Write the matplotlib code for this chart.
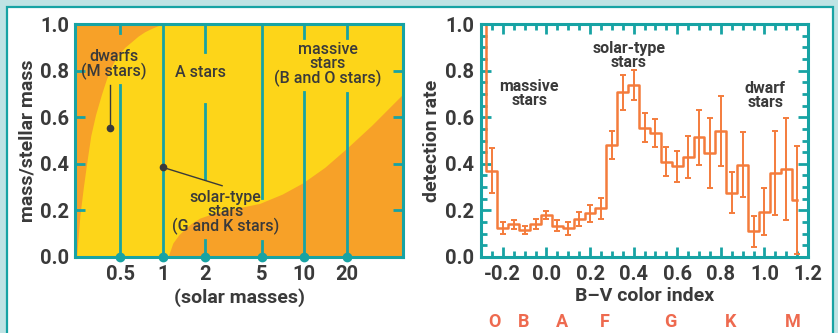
import numpy as np
import matplotlib.pyplot as plt
from matplotlib.patches import Rectangle
from matplotlib.transforms import blended_transform_factory

plt.rcParams['font.family'] = ['Roboto', 'DejaVu Sans']

teal = '#17a3a4'
yellow = '#fdd519'
orange = '#f7a128'
hist_col = '#f47c3c'
dark = '#3a3a3a'
letter_col = '#ee6a4f'

# left panel: companion mass fraction vs primary mass (solar masses)
mass_ticks = [0.5, 1, 2, 5, 10, 20]
frac_ticks = [0.0, 0.2, 0.4, 0.6, 0.8, 1.0]
# edge of the dwarf (orange, upper left) region
dwarf_mass = [0.246, 0.26, 0.275, 0.289, 0.31, 0.335, 0.37, 0.401, 0.44, 0.484, 0.54, 0.602, 0.67, 0.747, 0.84, 0.928, 1.0]
dwarf_frac = [0.0, 0.18, 0.30, 0.395, 0.52, 0.61, 0.70, 0.765, 0.825, 0.867, 0.90, 0.924, 0.948, 0.967, 0.982, 0.993, 1.0]
# edge of the massive-star (orange, lower right) region
massive_mass = [1.09, 1.18, 1.3, 1.43, 1.6, 1.83, 2.3, 3.12, 4.85, 7.0, 9.77, 14.0, 20.3, 30.0, 50.0]
massive_frac = [0.0, 0.06, 0.095, 0.12, 0.145, 0.167, 0.188, 0.206, 0.23, 0.27, 0.318, 0.385, 0.47, 0.565, 0.70]

# right panel: detection rate per B-V bin
bv = [-0.30, -0.25, -0.20, -0.15, -0.10, -0.05, 0.00, 0.05, 0.10, 0.15,
      0.20, 0.25, 0.30, 0.35, 0.40, 0.45, 0.50, 0.55, 0.60, 0.65,
      0.70, 0.75, 0.80, 0.85, 0.90, 0.95, 1.00, 1.05, 1.10, 1.15]
rate = [1.05, 0.37, 0.123, 0.14, 0.116, 0.142, 0.18, 0.134, 0.123, 0.162,
        0.187, 0.209, 0.481, 0.707, 0.737, 0.555, 0.531, 0.409, 0.39, 0.43,
        0.514, 0.448, 0.539, 0.276, 0.396, 0.11, 0.195, 0.362, 0.378, 0.245]
rate_err = [np.nan, 0.097, 0.026, 0.02, 0.017, 0.02, 0.019, 0.023, 0.029, 0.029,
            0.037, 0.045, 0.06, 0.075, 0.064, 0.061, 0.061, 0.063, 0.066, 0.09,
            0.118, 0.15, 0.15, 0.088, 0.14, 0.066, 0.10, 0.18, 0.218, 0.23]
spec_class = ['O', 'B', 'A', 'F', 'G', 'K', 'M']
spec_bv = [-0.24, -0.106, 0.07, 0.268, 0.569, 0.843, 1.128]

fig = plt.figure(figsize=(8.38, 3.33), dpi=100)
fig.patch.set_facecolor('#bfe3e4')
fig.patches.append(Rectangle((7 / 838, -0.1), 826 / 838, 1.1 - 7 / 333,
                             transform=fig.transFigure, facecolor='white',
                             edgecolor=teal, linewidth=1.6, zorder=-10))

tick_font = dict(fontsize=14.5, fontweight='bold', color=dark)

# ---------- left panel ----------
ax1 = fig.add_axes([75 / 838, 76 / 333, 328 / 838, 233 / 333])
ax1.set_xscale('log')
ax1.set_xlim(0.24, 50)
ax1.set_ylim(0, 1)
ax1.set_facecolor(yellow)
ax1.fill_betweenx(dwarf_frac, 0.2, dwarf_mass, color=orange, lw=0)
ax1.fill_between(massive_mass, 0, massive_frac, color=orange, lw=0)

# vertical guide lines, broken where the labels sit
guide_spans = {0.5: [(0.96, 1), (0, 0.74)], 1: [(0, 1)],
               2: [(0.878, 1), (0.335, 0.655), (0, 0.073)],
               5: [(0.255, 1), (0, 0.069)], 10: [(0.94, 1), (0, 0.707)],
               20: [(0.94, 1), (0, 0.703)]}
for m, spans in guide_spans.items():
    for lo, hi in spans:
        ax1.axvline(m, lo, hi, color=teal, lw=2)
ax1.plot(mass_ticks, [0] * len(mass_ticks), 'o', color=teal, ms=6,
         clip_on=False, zorder=5)

ax1.set_xticks(mass_ticks)
ax1.set_xticklabels([str(m) for m in mass_ticks], **tick_font)
ax1.xaxis.set_minor_locator(plt.NullLocator())
ax1.tick_params(axis='x', length=0, pad=6)
ax1.set_yticks(frac_ticks)
ax1.set_yticklabels([f'{v:.1f}' for v in frac_ticks], **tick_font)
ax1.tick_params(axis='y', direction='in', length=7, width=2, color=teal,
                left=True, right=True, pad=4)
for s in ax1.spines.values():
    s.set_color(teal)
    s.set_linewidth(2.2)
ax1.set_xlabel('(solar masses)', fontsize=14, fontweight='bold', color=dark)
ax1.xaxis.set_label_coords(0.5, -0.135)
ax1.set_ylabel('mass/stellar mass', fontsize=14, fontweight='bold', color=dark)
ax1.yaxis.set_label_coords(-0.118, 0.5)

note = dict(fontsize=11.5, fontweight='medium', color=dark, ha='center',
            va='center', linespacing=0.92)
ax1.text(0.451, 0.828, 'dwarfs\n(M stars)', **note)
ax1.text(1.86, 0.79, 'A stars', **note)
ax1.text(14.7, 0.828, 'massive\nstars\n(B and O stars)', **note)
ax1.text(2.79, 0.19, 'solar-type\nstars\n(G and K stars)', **note)
ax1.plot([0.423, 0.423], [0.738, 0.555], color=dark, lw=1)
ax1.plot(0.423, 0.555, 'o', color=dark, ms=4.5)
ax1.plot([1.0, 2.63], [0.385, 0.306], color=dark, lw=1)
ax1.plot(1.0, 0.385, 'o', color=dark, ms=4.5)

# ---------- right panel ----------
ax2 = fig.add_axes([481 / 838, 76 / 333, 327 / 838, 233 / 333])
ax2.set_xlim(-0.3, 1.2)
ax2.set_ylim(0, 1)
ax2.plot(bv, rate, drawstyle='steps-mid', color=hist_col, lw=1.8)
ax2.errorbar(bv, rate, yerr=rate_err, fmt='none', ecolor=hist_col,
             elinewidth=1.4, capsize=2.2, capthick=1.4)

ax2.set_xticks(np.arange(-0.2, 1.21, 0.2))
ax2.set_xticklabels(['-0.2', '0.0', '0.2', '0.4', '0.6', '0.8', '1.0', '1.2'],
                    **tick_font)
ax2.set_xticks(np.arange(-0.3, 1.2, 0.05), minor=True)
ax2.set_yticks(frac_ticks)
ax2.set_yticklabels([f'{v:.1f}' for v in frac_ticks], **tick_font)
ax2.set_yticks(np.arange(0, 1.0, 0.05), minor=True)
ax2.tick_params(which='both', direction='in', color=teal, width=2,
                top=True, right=True)
ax2.tick_params(which='major', length=7)
ax2.tick_params(which='minor', length=4)
ax2.tick_params(axis='x', which='major', pad=6)
ax2.tick_params(axis='y', which='major', pad=5)
for s in ax2.spines.values():
    s.set_color(teal)
    s.set_linewidth(2.2)
ax2.set_xlabel('B\u2013V color index', fontsize=14, fontweight='bold', color=dark)
ax2.xaxis.set_label_coords(0.5, -0.128)
ax2.set_ylabel('detection rate', fontsize=14, fontweight='bold', color=dark)
ax2.yaxis.set_label_coords(-0.122, 0.5)

bold_note = dict(fontsize=11.5, fontweight='bold', color=dark, ha='center',
                 va='center', linespacing=0.92)
ax2.text(-0.079, 0.70, 'massive\nstars', **bold_note)
ax2.text(0.379, 0.865, 'solar-type\nstars', **bold_note)
ax2.text(1.005, 0.695, 'dwarf\nstars', **bold_note)

trans = blended_transform_factory(ax2.transData, ax2.transAxes)
for c, x in zip(spec_class, spec_bv):
    ax2.text(x, -0.279, c, transform=trans, ha='center', va='center',
             fontsize=13, fontweight='bold', color=letter_col)

fig.savefig('out.png', dpi=100, facecolor=fig.get_facecolor())
